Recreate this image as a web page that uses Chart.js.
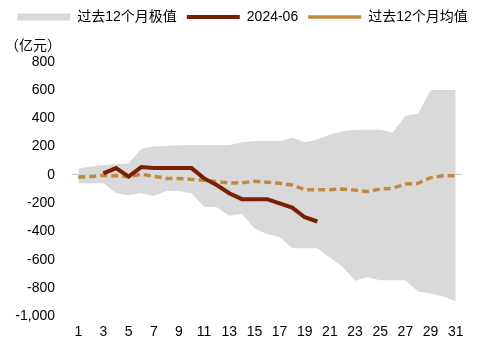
<!DOCTYPE html>
<html>
<head>
<meta charset="utf-8">
<script src="https://cdn.jsdelivr.net/npm/chart.js@4.4.1/dist/chart.umd.min.js"></script>
<style>
  body { margin: 0; background: #fff; }
  canvas { display: block; }
</style>
</head>
<body>
<canvas id="myChart" width="485" height="354"></canvas>
<script>
// days of month
var days = [];
for (var d = 1; d <= 31; d++) days.push(String(d));

// past 12 months max / min (band)
var bandMax = [45, 60, 70, 75, 80, 185, 200, 205, 210, 210, 210, 210, 210, 230, 240,
  240, 240, 262, 230, 250, 285, 308, 320, 320, 320, 300, 418, 432, 600, 600, 600];
var bandMin = [-60, -60, -60, -130, -145, -130, -150, -115, -115, -130, -225, -230, -290, -275, -380,
  -420, -440, -520, -520, -520, -585, -650, -750, -725, -745, -745, -745, -825, -840, -860, -895];

// 2024-06 series
var june = [null, null, 10, 48, -12, 55, 48, 48, 48, 48, -25, -72, -130, -172, -172,
  -172, -202, -232, -300, -330, null, null, null, null, null, null, null, null, null, null, null];

// past 12 months average
var avg = [-15, -12, -3, -7, -14, 5, -10, -25, -25, -32, -38, -48, -58, -56, -45,
  -52, -60, -72, -105, -105, -105, -100, -108, -118, -100, -95, -65, -60, -20, -7, -7];

var yTicks = [800, 600, 400, 200, 0, -200, -400, -600, -800, -1000];

var font = "'Liberation Sans', 'Noto Sans CJK SC', sans-serif";

var ctx = document.getElementById("myChart").getContext("2d");
var myChart = new Chart(ctx, {
  type: "line",
  data: {
    labels: days,
    datasets: [
      {
        label: "过去12个月极值",
        data: bandMax,
        backgroundColor: "#d9d9d9",
        borderColor: "#d9d9d9",
        borderWidth: 0,
        pointRadius: 0,
        pointStyle: "rect",
        fill: "+1",
        tension: 0,
      },
      {
        label: "min",
        data: bandMin,
        backgroundColor: "#d9d9d9",
        borderColor: "#d9d9d9",
        borderWidth: 0,
        pointRadius: 0,
        fill: false,
        tension: 0,
      },
      {
        label: "2024-06",
        data: june,
        borderColor: "#7b1f04",
        backgroundColor: "#7b1f04",
        borderWidth: 4,
        pointRadius: 0,
        pointStyle: "line",
        fill: false,
        tension: 0,
      },
      {
        label: "过去12个月均值",
        data: avg,
        borderColor: "#c28a40",
        backgroundColor: "#c28a40",
        borderWidth: 3.5,
        borderDash: [7, 4],
        pointRadius: 0,
        pointStyle: "line",
        fill: false,
        tension: 0,
      },
    ],
  },
  options: {
    responsive: false,
    animation: false,
    layout: {
      padding: { left: 5, right: 5, top: 0, bottom: 5 },
    },
    scales: {
      x: {
        offset: true,
        grid: { display: false, drawTicks: false },
        border: { display: false },
        ticks: {
          autoSkip: false,
          maxRotation: 0,
          padding: 8,
          color: "#000",
          font: { family: font, size: 14 },
          callback: function (value, index) {
            return index % 2 === 0 ? days[index] : "";
          },
        },
      },
      y: {
        min: -1000,
        max: 800,
        afterBuildTicks: function (axis) {
          axis.ticks = yTicks.map(function (v) { return { value: v }; });
        },
        afterFit: function (axis) {
          axis.width = 67;
        },
        border: { display: false },
        grid: {
          drawTicks: false,
          lineWidth: 1,
          color: function (c) {
            return c.tick && c.tick.value === 0 ? "#c8c8c8" : "rgba(0,0,0,0)";
          },
        },
        ticks: {
          padding: 17,
          color: "#000",
          font: { family: font, size: 14 },
          callback: function (value) {
            return value.toLocaleString("en-US");
          },
        },
      },
      // empty right axis, only keeps the right margin
      yRight: {
        position: "right",
        grid: { display: false },
        border: { display: false },
        ticks: { display: false },
        afterFit: function (axis) {
          axis.width = 18;
        },
      },
    },
    plugins: {
      filler: { drawTime: "beforeDatasetsDraw" },
      legend: {
        position: "top",
        weight: 1000,
        labels: {
          usePointStyle: true,
          pointStyleWidth: 53,
          boxHeight: 7,
          padding: 10,
          color: "#000",
          font: { family: font, size: 14 },
          filter: function (item) {
            return item.text !== "min";
          },
        },
      },
      title: {
        display: true,
        text: "（亿元）",
        align: "start",
        weight: 500,
        color: "#000",
        font: { family: "'Noto Sans CJK SC', sans-serif", size: 14, weight: "normal" },
        padding: { top: 2, bottom: 9 },
      },
      tooltip: { enabled: false },
    },
  },
});
</script>
</body>
</html>
